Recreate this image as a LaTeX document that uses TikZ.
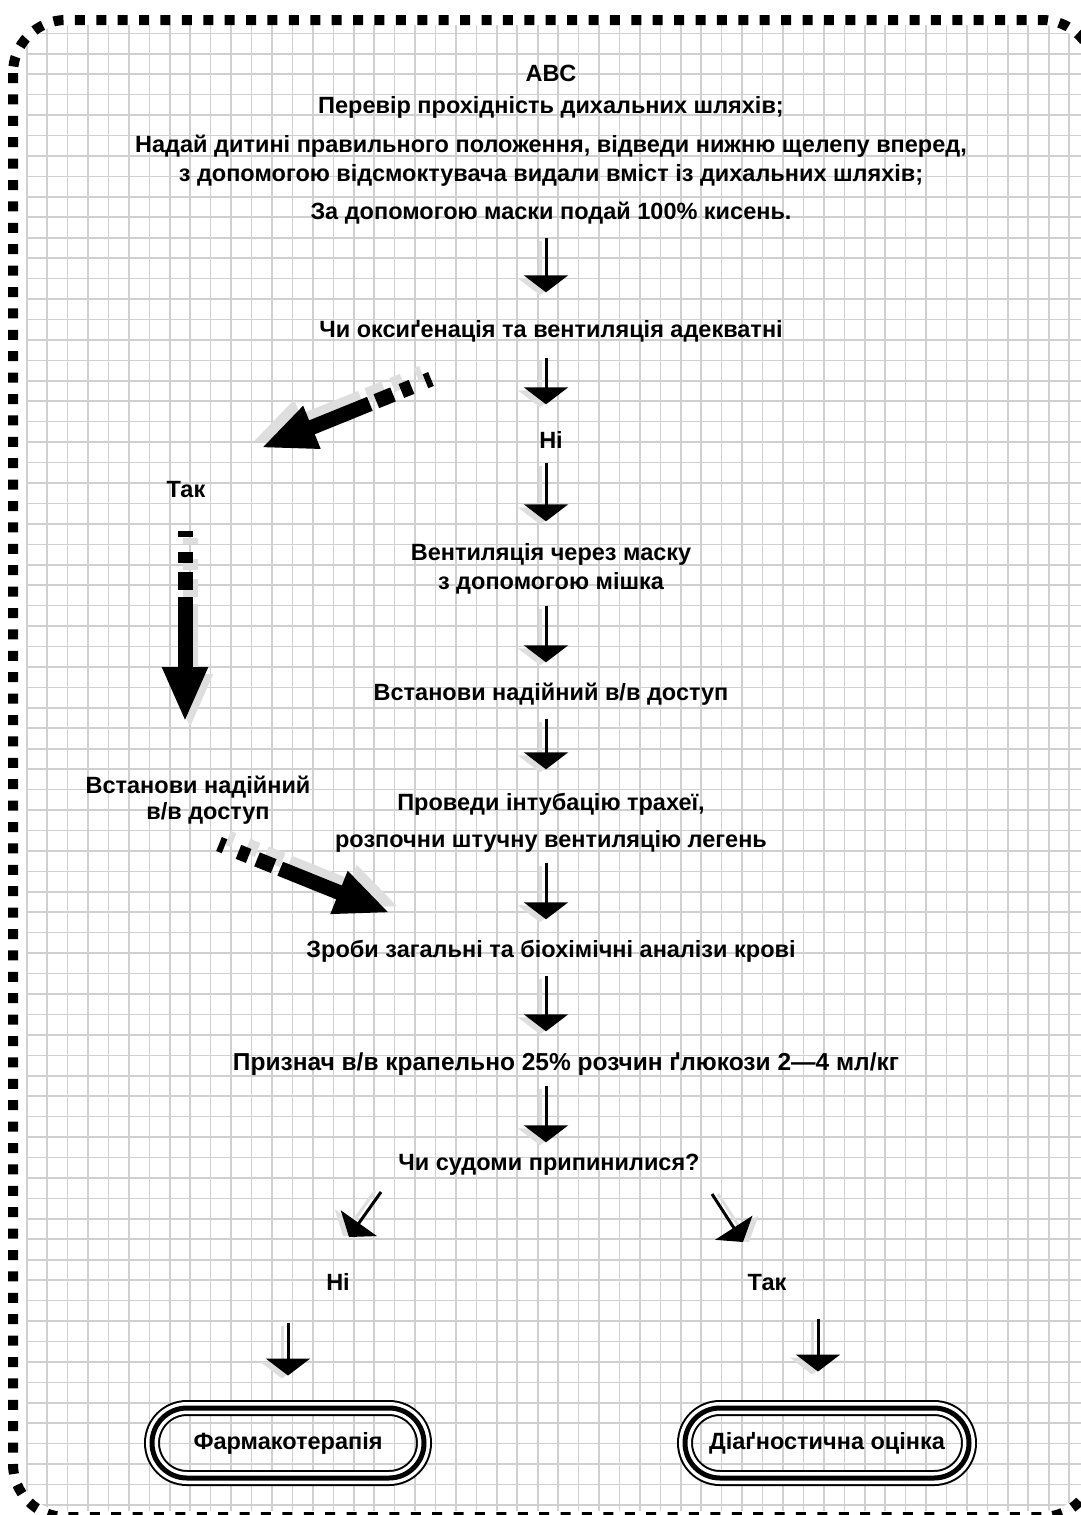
\documentclass[tikz,border=0pt]{standalone}
\usepackage{fontspec}
\newfontfamily\labelfont{Liberation Sans}
\usetikzlibrary{arrows.meta}

\definecolor{gridgray}{RGB}{208,208,208}
\definecolor{shadegray}{RGB}{222,222,222}

\tikzset{
  lbl/.style={font=\labelfont\bfseries\fontsize{23.5}{29}\selectfont, inner sep=0pt, text height=17pt, text depth=5pt},
  gridline/.style={draw=gridgray, line width=1.6pt},
  frame/.style={line width=10pt, dash pattern=on 10pt off 11.4pt, rounded corners=53pt},
  flow/.style={line width=3pt, -{Triangle[length=17pt,width=44pt]}},
  bigflow/.style={line width=15pt, dash pattern=on 6pt off 15pt on 11pt off 9pt on 18pt off 7pt on 500pt, -{Triangle[length=55pt,width=42pt]}},
  pill/.style={lbl, draw, line width=5pt, rounded corners=35pt, minimum height=70pt,
    preaction={draw, line width=16pt}, preaction={draw=white, line width=12pt}}
}
% arrow with its grey shadow: [shadow shift]{options}{path}
\newcommand\flowdraw[3][-6pt,-3pt]{%
  \draw[#2, draw=shadegray, transform canvas={shift={(#1)}}] #3;
  \draw[#2] #3;}

\begin{document}
\begin{tikzpicture}[x=1pt, y=-1pt]
\useasboundingbox (0,0) rectangle (1081,1515);

% squared paper and frame
\begin{scope}
\clip[rounded corners=48pt] (18,25) rectangle (1090,1511);
\foreach \i in {0,...,51}
  \draw[gridline] ({26.7+20.44*\i},25) -- ({26.7+20.44*\i},1511);
\foreach \j in {0,...,72}
  \draw[gridline] (26.7,{33.3+20.44*\j}) -- (1090,{33.3+20.44*\j});
\end{scope}
\draw[frame] (13,20) rectangle (1095,1517);

% main column
\node[lbl] (abc) at (551,75) {ABC};
\node[lbl] (airway) at (551,107) {Перевір прохідність дихальних шляхів;};
\node[lbl] (position) at (551,146) {Надай дитині правильного положення, відведи нижню щелепу вперед,};
\node[lbl] (suction) at (551,175) {з допомогою відсмоктувача видали вміст із дихальних шляхів;};
\node[lbl] (oxygen) at (551,213) {За допомогою маски подай 100\% кисень.};
\node[lbl] (adequate) at (551,331) {Чи оксиґенація та вентиляція адекватні};
\node[lbl] (no1) at (551,442) {Ні};
\node[lbl] (bagmask) at (551,554) {Вентиляція через маску};
\node[lbl] (bag) at (551,583) {з допомогою мішка};
\node[lbl] (iv) at (551,694) {Встанови надійний в/в доступ};
\node[lbl] (intub) at (551,804) {Проведи інтубацію трахеї,};
\node[lbl] (ventil) at (551,841) {розпочни штучну вентиляцію легень};
\node[lbl] (labs) at (551,951) {Зроби загальні та біохімічні аналізи крові};
\node[lbl, font=\labelfont\bfseries\fontsize{24.5}{29}\selectfont] (glucose) at (566,1064) {Признач в/в крапельно 25\% розчин ґлюкози 2—4 мл/кг};
\node[lbl] (stop) at (549,1164) {Чи судоми припинилися?};

% side branch
\node[lbl] (yes1) at (186,491) {Так};
\node[lbl] (iv2) at (198,787) {Встанови надійний};
\node[lbl] (iv2b) at (208,813) {в/в доступ};

% outcomes
\node[lbl] (no2) at (338,1284) {Ні};
\node[lbl] (yes2) at (767,1284) {Так};
\node[pill, minimum width=272pt] (pharm) at (288,1443) {Фармакотерапія};
\node[pill, minimum width=284pt] (diag) at (827,1443) {Діаґностична оцінка};

% arrows
\coordinate (spine) at (546,0);
\coordinate (diagcol) at (818,0);
\flowdraw{flow, shorten <=13.5pt, shorten >=27.5pt}{(oxygen.south -| spine) -- (adequate.north -| spine)}
\flowdraw{flow, shorten <=15.5pt, shorten >=26.5pt}{(adequate.south -| spine) -- (no1.north -| spine)}
\flowdraw{flow, shorten <=9.5pt, shorten >=21.5pt}{(no1.south -| spine) -- (bagmask.north -| spine)}
\flowdraw{flow, shorten <=11.5pt, shorten >=20.5pt}{(bag.south -| spine) -- (iv.north -| spine)}
\flowdraw{flow, shorten <=13.5pt, shorten >=23.5pt}{(iv.south -| spine) -- (intub.north -| spine)}
\flowdraw{flow, shorten <=10.5pt, shorten >=20.5pt}{(ventil.south -| spine) -- (labs.north -| spine)}
\flowdraw{flow, shorten <=13.5pt, shorten >=21.5pt}{(labs.south -| spine) -- (glucose.north -| spine)}
\flowdraw{flow, shorten <=10.5pt, shorten >=10.5pt}{(glucose.south -| spine) -- (stop.north -| spine)}

\coordinate (nofrom) at (381,1192);
\coordinate (noto) at (349,1237);
\flowdraw[-6pt,1pt]{flow}{(nofrom) -- (noto)}
\coordinate (yesfrom) at (712,1194);
\coordinate (yesto) at (743,1242);
\flowdraw[6pt,0pt]{flow}{(yesfrom) -- (yesto)}
\flowdraw{flow, shorten <=27.5pt, shorten >=30pt}{(no2.south -| pharm.north) -- (pharm.north)}
\flowdraw{flow, shorten <=23.5pt, shorten >=34pt}{(yes2.south -| diagcol) -- (diag.north -| diagcol)}

% thick dashed arrows of the "Так" branch
\coordinate (sidefrom) at (431,379);
\coordinate (sideto) at (261,448);
\flowdraw[-9pt,6pt]{bigflow}{(sidefrom) -- (sideto)}
\coordinate (downfrom) at (185,531);
\coordinate (downto) at (185,722);
\flowdraw[5pt,-7pt]{bigflow}{(downfrom) -- (downto)}
\coordinate (backfrom) at (219,844);
\coordinate (backto) at (390,913);
\flowdraw[9pt,6pt]{bigflow}{(backfrom) -- (backto)}
\end{tikzpicture}
\end{document}
